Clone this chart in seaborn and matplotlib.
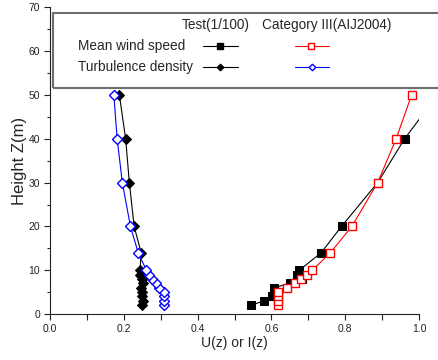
import numpy as np
import pandas as pd
import matplotlib
matplotlib.use("Agg")
from matplotlib import pyplot as plt
from matplotlib.lines import Line2D
from matplotlib.patches import Rectangle
import seaborn as sns

# heights (m)
z_test_u = [2, 3, 4, 5, 6, 7, 8, 9, 10, 14, 20, 30, 40, 50]
u_test = [0.545, 0.580, 0.602, 0.612, 0.607, 0.650, 0.684, 0.670, 0.676, 0.735, 0.790, 0.888, 0.961, 1.050]

z_aij_u = [2, 3, 4, 5, 6, 7, 8, 9, 10, 14, 20, 30, 40, 50]
u_aij = [0.619, 0.619, 0.619, 0.619, 0.641, 0.664, 0.680, 0.697, 0.711, 0.760, 0.818, 0.888, 0.938, 0.980]

z_test_i = [2, 3, 4, 5, 6, 7, 8, 9, 10, 14, 20, 30, 40, 50]
i_test = [0.250, 0.252, 0.248, 0.249, 0.246, 0.252, 0.250, 0.243, 0.244, 0.247, 0.228, 0.215, 0.205, 0.188]

z_aij_i = [2, 3, 4, 5, 6, 7, 8, 9, 10, 14, 20, 30, 40, 50]
i_aij = [0.310, 0.310, 0.310, 0.310, 0.296, 0.286, 0.276, 0.268, 0.261, 0.239, 0.218, 0.196, 0.182, 0.173]

W, H = 438, 360
sns.set_style("ticks")
plt.rcParams['font.family'] = ['Liberation Sans', 'DejaVu Sans']

fig = plt.figure(figsize=(W / 100, H / 100), dpi=100)
ax = fig.add_axes([50 / W, 1 - 314 / H, 369 / W, (314 - 7.4) / H])


def px(x, y):
    # pixel (from top-left) -> figure fraction
    return x / W, 1 - y / H


series = [
    (u_test, z_test_u, dict(color="black", marker="s", markersize=5.2, mfc="black", mec="black")),
    (u_aij, z_aij_u, dict(color="#ff0000", marker="s", markersize=5.2, mfc="white", mec="#ff0000", mew=1)),
    (i_test, z_test_i, dict(color="black", marker="D", markersize=4.6, mfc="black", mec="black")),
    (i_aij, z_aij_i, dict(color="#0000ff", marker="D", markersize=4.6, mfc="white", mec="#0000ff", mew=1)),
]
for xs, zs, st in series:
    df = pd.DataFrame({"x": xs, "z": zs})
    sns.lineplot(data=df, x="x", y="z", orient="y", estimator=None, sort=True,
                 ax=ax, linewidth=0.8, **st)

ax.set_xlim(0, 1.0)
ax.set_ylim(0, 70)
ax.set_xticks(np.arange(0, 1.01, 0.2))
ax.set_xticks(np.arange(0, 1.01, 0.1), minor=True)
ax.set_yticks(np.arange(0, 71, 10))
ax.set_yticks(np.arange(0, 71, 5), minor=True)
ax.set_xticklabels([f"{v:.1f}" for v in np.arange(0, 1.01, 0.2)])
ax.tick_params(axis="both", which="major", direction="out", length=4, width=0.8,
               labelsize=7.5, colors="#222222", pad=3)
ax.tick_params(axis="both", which="minor", direction="out", length=2.5, width=0.8, colors="#222222")
ax.tick_params(axis="x", which="minor", length=4)
for s in ["top", "right"]:
    ax.spines[s].set_visible(False)
for s in ["left", "bottom"]:
    ax.spines[s].set_color("#222222")
    ax.spines[s].set_linewidth(0.8)

ax.set_xlabel("U(z) or I(z)", fontsize=10, labelpad=2)
ax.set_ylabel("Height Z(m)", fontsize=12, labelpad=1)

# legend box drawn by hand (two columns with headers), open on the right side
x0, y0 = px(53, 88.3)
x1, y1 = px(480, 12.7)
fig.add_artist(Rectangle((x0, y0), x1 - x0, y1 - y0, transform=fig.transFigure,
                         fill=False, edgecolor="#6e6e6e", linewidth=1.5, clip_on=False))
fs = 9.8
fig.text(*px(216, 25), "Test(1/100)", ha="center", va="center", fontsize=fs)
fig.text(*px(326.5, 25), "Category III(AIJ2004)", ha="center", va="center", fontsize=fs)
fig.text(*px(78, 45.7), "Mean wind speed", ha="left", va="center", fontsize=fs)
fig.text(*px(78, 66.7), "Turbulence density", ha="left", va="center", fontsize=fs)

samples = [
    (203, 237.5, 45.7, series[0][2]),
    (294.5, 328.5, 45.7, series[1][2]),
    (203, 237.5, 66.7, series[2][2]),
    (295, 329, 66.7, series[3][2]),
]
for xa, xb, yy, st in samples:
    (fa, fy), (fb, _) = px(xa, yy), px(xb, yy)
    fig.add_artist(Line2D([fa, fb], [fy, fy], transform=fig.transFigure,
                          color=st["color"], linewidth=0.8))
    mst = {k: v for k, v in st.items() if k != "color"}
    mst["markersize"] = mst["markersize"] * 0.72
    fig.add_artist(Line2D([(fa + fb) / 2], [fy], transform=fig.transFigure,
                          linestyle="none", **mst))

fig.savefig("out.png", dpi=100)
